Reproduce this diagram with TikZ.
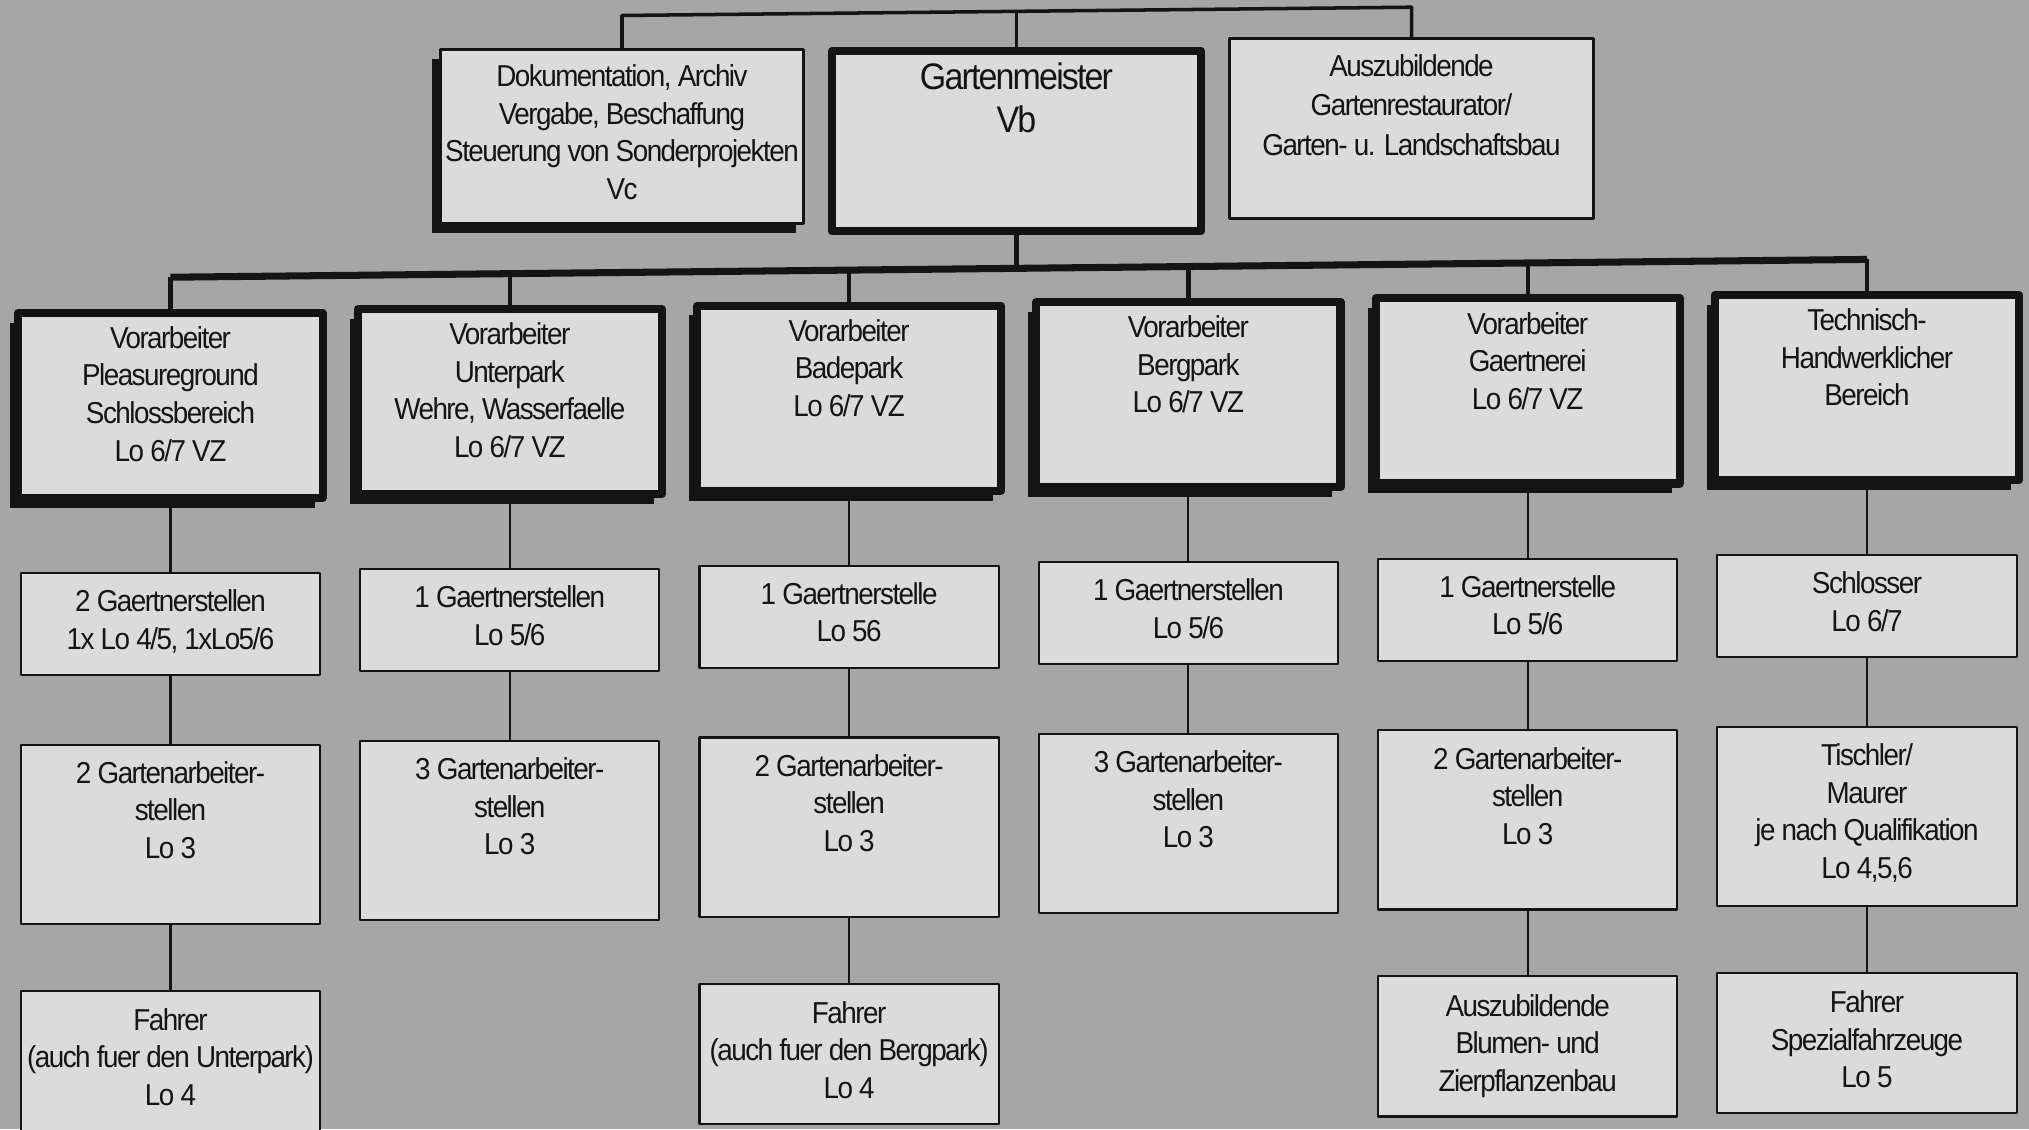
\documentclass[tikz,border=0pt]{standalone}
\usepackage{fontspec}
\setmainfont[LetterSpace=-5,FakeStretch=0.92]{Liberation Sans}
\usetikzlibrary{positioning,shadows}
\definecolor{paper}{gray}{0.65}
\definecolor{cardfill}{gray}{0.86}
\definecolor{ink}{gray}{0.08}
\begin{document}
\begin{tikzpicture}[x=0.01cm, y=-0.01cm, line join=round]
	\pgfmathsetmacro\colx{170.5}
	\pgfmathsetmacro\colw{339.3}
	\tikzset{
		box/.style={draw=ink, fill=cardfill, line width=0.6pt, minimum width=2.99cm, inner sep=0pt},
		head/.style={box, line width=2.3pt, minimum width=3.04cm, minimum height=1.85cm},
		dropped/.style={drop shadow={shadow xshift=-2.3pt, shadow yshift=-2.8pt, fill=ink, opacity=1}},
		txt/.style={align=center, inner sep=0pt, text=ink, font=\fontsize{8.6}{10.7}\selectfont},
		wire/.style={draw=ink, line width=0.6pt},
		stem/.style={draw=ink, line width=1.2pt},
	}
	\fill[paper] (0,0) rectangle (2029,1129);
	\useasboundingbox (0,0) rectangle (2029,1129);
	\begin{scope}[yslant=0.0105]
	\node[box, dropped, line width=0.85pt, minimum width=3.63cm, minimum height=1.74cm] (dok) at (622,143) {};
	\node[box, line width=2.3pt, minimum width=3.69cm, minimum height=1.8cm] (meister) at (1016.5,151.7) {};
	\node[box, line width=0.85pt, minimum width=3.64cm, minimum height=1.8cm] (azubi) at (1411.5,143.3) {};
	\node[txt, below=0.16cm of dok.north] (dokt) {Dokumentation, Archiv\\Vergabe, Beschaffung\\Steuerung von Sonderprojekten\\Vc};
	\node[txt, font=\fontsize{10.5}{12.2}\selectfont, below=0.15cm of meister.north] (meistert) {Gartenmeister\\Vb};
	\node[txt, font=\fontsize{8.6}{11.3}\selectfont, below=0.165cm of azubi.north] (azubit) {Auszubildende\\Gartenrestaurator/\\Garten- u. Landschaftsbau};
	\coordinate (tl) at (622,22);
	\coordinate (tm) at (1016.5,22);
	\coordinate (tr) at (1411.5,22);
	\draw[ink, line width=1pt] (dok) -- (tl) -- (tr) -- (azubi);
	\draw[ink, line width=1pt] (meister) -- (tm);
	\foreach \i/\txt in {
		1/{Vorarbeiter\\Pleasureground\\Schlossbereich\\Lo 6/7 VZ},
		2/{Vorarbeiter\\Unterpark\\Wehre, Wasserfaelle\\Lo 6/7 VZ},
		3/{Vorarbeiter\\Badepark\\Lo 6/7 VZ},
		4/{Vorarbeiter\\Bergpark\\Lo 6/7 VZ},
		5/{Vorarbeiter\\Gaertnerei\\Lo 6/7 VZ},
		6/{Technisch-\\Handwerklicher\\Bereich}}{
		\node[head, dropped] (v\i) at ({\colx+\colw*(\i-1)},407) {};
		\node[txt, below=0.17cm of v\i.north] (v\i t) {\txt};
		\coordinate (b\i) at ({\colx+\colw*(\i-1)},279);
		\draw[stem] (b\i) -- (v\i);
	}
	\coordinate (bm) at (1016.5,279);
	\draw[ink, line width=2pt] (b1) -- (b6);
	\draw[stem] (meister) -- (bm);
	\foreach \i/\txt in {
		1/{2 Gaertnerstellen\\1x Lo 4/5, 1xLo5/6},
		2/{1 Gaertnerstellen\\Lo 5/6},
		3/{1 Gaertnerstelle\\Lo 56},
		4/{1 Gaertnerstellen\\Lo 5/6},
		5/{1 Gaertnerstelle\\Lo 5/6},
		6/{Schlosser\\Lo 6/7}}{
		\node[box, minimum height=1.02cm] (g\i) at ({\colx+\colw*(\i-1)},625.7) {};
		\node[txt, below=0.17cm of g\i.north] (g\i t) {\txt};
		\draw[wire] (v\i) -- (g\i);
	}
	\foreach \i/\txt in {
		1/{2 Gartenarbeiter-\\stellen\\Lo 3},
		2/{3 Gartenarbeiter-\\stellen\\Lo 3},
		3/{2 Gartenarbeiter-\\stellen\\Lo 3},
		4/{3 Gartenarbeiter-\\stellen\\Lo 3},
		5/{2 Gartenarbeiter-\\stellen\\Lo 3},
		6/{Tischler/\\Maurer\\je nach Qualifikation\\Lo 4,5,6}}{
		\node[box, minimum height=1.79cm] (a\i) at ({\colx+\colw*(\i-1)},836) {};
		\node[txt, below=0.17cm of a\i.north] (a\i t) {\txt};
		\draw[wire] (g\i) -- (a\i);
	}
	\foreach \i/\txt in {
		1/{Fahrer\\(auch fuer den Unterpark)\\Lo 4},
		3/{Fahrer\\(auch fuer den Bergpark)\\Lo 4},
		5/{Auszubildende\\Blumen- und\\Zierpflanzenbau},
		6/{Fahrer\\Spezialfahrzeuge\\Lo 5}}{
		\node[box, minimum height=1.4cm] (f\i) at ({\colx+\colw*(\i-1)},1062.5) {};
		\node[txt, below=0.18cm of f\i.north] (f\i t) {\txt};
		\draw[wire] (a\i) -- (f\i);
	}
	\end{scope}
\end{tikzpicture}
\end{document}
